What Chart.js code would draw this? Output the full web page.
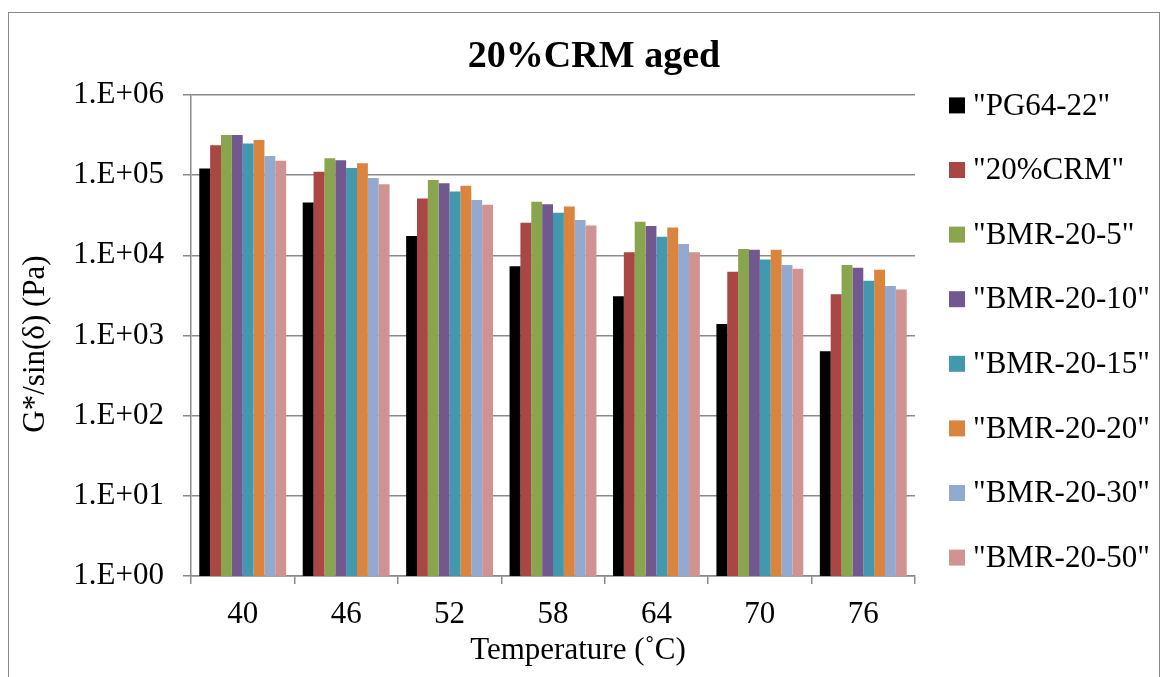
<!DOCTYPE html>
<html>
<head>
<meta charset="utf-8">
<script src="https://cdn.jsdelivr.net/npm/chart.js@4/dist/chart.umd.min.js"></script>
<style>
  html, body { margin: 0; padding: 0; background: #fff; }
  #wrap { width: 1167px; height: 677px; }
</style>
</head>
<body>
<div id="wrap"><canvas id="agedChart" width="1167" height="677"></canvas></div>
<script>
const temperatures = ['40', '46', '52', '58', '64', '70', '76'];
const seriesNames = ['"PG64-22"', '"20%CRM"', '"BMR-20-5"', '"BMR-20-10"', '"BMR-20-15"', '"BMR-20-20"', '"BMR-20-30"', '"BMR-20-50"'];
const seriesColors = ['#000000', '#AA4643', '#89A54E', '#71588F', '#4198AF', '#DB843D', '#93A9CF', '#D19392'];

const pg6422 = [121000, 45600, 17400, 7300, 3080, 1390, 636];
const crm20 = [236000, 110000, 51000, 25500, 10900, 6250, 3260];
const bmr5 = [318000, 163000, 87000, 46600, 26200, 12000, 7570];
const bmr10 = [318000, 154000, 79000, 43500, 23200, 11700, 7000];
const bmr15 = [248000, 123000, 62500, 33900, 17100, 8900, 4830];
const bmr20 = [275000, 141000, 74000, 40600, 22200, 11700, 6600];
const bmr30 = [174000, 92000, 48900, 27500, 13800, 7570, 4150];
const bmr50 = [151000, 77000, 42700, 23600, 10900, 6800, 3760];

const yTicks = [1, 10, 100, 1000, 10000, 100000, 1000000];

const allSeries = [pg6422, crm20, bmr5, bmr10, bmr15, bmr20, bmr30, bmr50];
const serif = '"Liberation Serif", "Times New Roman", serif';
const gridGray = '#8a8a8a';

// frame, titles and legend drawn on the canvas next to the plot
const extras = {
    id: 'extras',
    afterDraw(chart) {
        const ctx = chart.ctx;
        ctx.save();
        ctx.strokeStyle = gridGray;
        ctx.lineWidth = 1;
        ctx.strokeRect(8.5, 12.5, 1151, 700);

        ctx.fillStyle = '#000';
        ctx.textAlign = 'center';
        ctx.textBaseline = 'alphabetic';
        ctx.font = 'bold 38px ' + serif;
        ctx.fillText('20%CRM aged', 594, 67);

        ctx.font = '31px ' + serif;
        ctx.fillText('Temperature (\u02DAC)', 578, 659);

        ctx.save();
        ctx.translate(36, 344);
        ctx.rotate(-Math.PI / 2);
        ctx.textBaseline = 'middle';
        ctx.fillText('G*/sin(\u03B4) (Pa)', 0, 0);
        ctx.restore();

        ctx.textAlign = 'left';
        ctx.textBaseline = 'middle';
        chart.data.datasets.forEach((ds, i) => {
            const y = 105.4 + i * 64.6;
            ctx.fillStyle = ds.backgroundColor;
            ctx.fillRect(949, y - 8, 16, 16);
            ctx.fillStyle = '#000';
            ctx.fillText(ds.label, 973, y + 1);
        });
        ctx.restore();
    }
};

const ctxAged = document.getElementById('agedChart').getContext('2d');

const agedChart = new Chart(ctxAged, {
    type: 'bar',
    data: {
        labels: temperatures,
        datasets: allSeries.map((vals, i) => ({
            label: seriesNames[i],
            data: vals,
            backgroundColor: seriesColors[i],
            borderWidth: 0
        }))
    },
    options: {
        responsive: false,
        animation: false,
        layout: { padding: { top: 95, right: 252, bottom: 0, left: 0 } },
        datasets: { bar: { categoryPercentage: 0.84, barPercentage: 1 } },
        plugins: {
            legend: { display: false },
            title: { display: false },
            tooltip: { enabled: false }
        },
        scales: {
            x: {
                afterFit(scale) { scale.height = 101; },
                grid: {
                    offset: true,
                    drawOnChartArea: false,
                    color: gridGray,
                    lineWidth: 1.5,
                    tickLength: 8
                },
                border: { color: gridGray, width: 1.5 },
                ticks: {
                    color: '#000',
                    font: { family: serif, size: 31 },
                    padding: 12,
                    maxRotation: 0
                }
            },
            y: {
                type: 'logarithmic',
                min: 1,
                max: 1000000,
                afterFit(scale) { scale.width = 191; },
                afterBuildTicks(scale) {
                    scale.ticks = yTicks.map(v => ({ value: v }));
                },
                grid: {
                    color: gridGray,
                    lineWidth: 1.5,
                    tickLength: 8
                },
                border: { color: gridGray, width: 1.5 },
                ticks: {
                    color: '#000',
                    font: { family: serif, size: 31 },
                    padding: 19,
                    callback: (v) => '1.E+' + String(Math.round(Math.log10(v))).padStart(2, '0')
                }
            }
        }
    },
    plugins: [extras]
});
</script>
</body>
</html>
